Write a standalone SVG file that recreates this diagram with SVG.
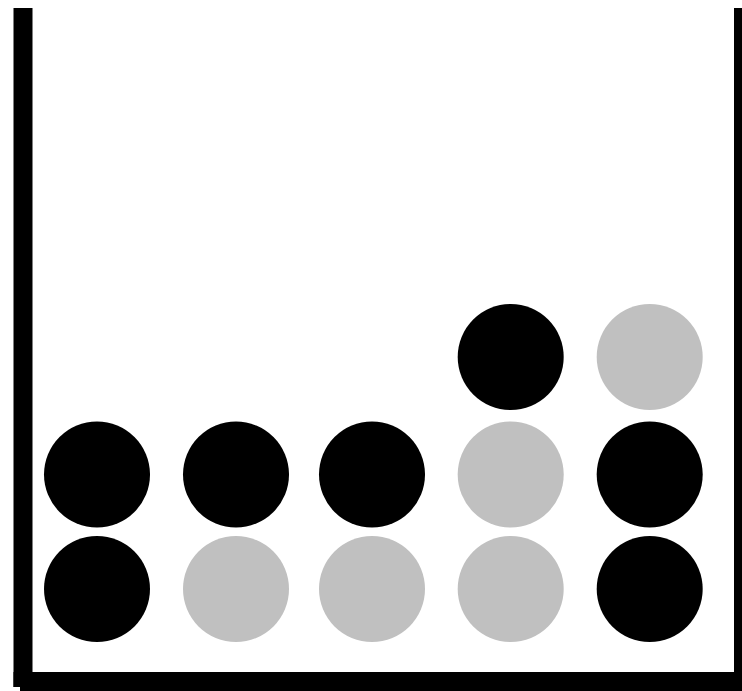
<svg xmlns="http://www.w3.org/2000/svg" width="742" height="691" viewBox="0 0 742 691">
<style>
.w{fill:#000}
.b{fill:#000}
.g{fill:#c0c0c0}
</style>
<rect width="742" height="691" fill="#fff"/>
<g id="container">
<rect class="w" x="13.5" y="8" width="19" height="679"/>
<rect class="w" x="20" y="672" width="722" height="19"/>
<rect class="w" x="13.5" y="672" width="20" height="15"/>
<rect class="w" x="734" y="8" width="8" height="670"/>
</g>
<g id="balls">
<circle id="c1r2" class="b" cx="97" cy="474.5" r="53"/>
<circle id="c1r3" class="b" cx="97" cy="589" r="53"/>
<circle id="c2r2" class="b" cx="236" cy="474.5" r="53"/>
<circle id="c2r3" class="g" cx="236" cy="589" r="53"/>
<circle id="c3r2" class="b" cx="372" cy="474.5" r="53"/>
<circle id="c3r3" class="g" cx="372" cy="589" r="53"/>
<circle id="c4r1" class="b" cx="510.7" cy="357" r="53"/>
<circle id="c4r2" class="g" cx="510.7" cy="474.5" r="53"/>
<circle id="c4r3" class="g" cx="510.7" cy="589" r="53"/>
<circle id="c5r1" class="g" cx="649.7" cy="357" r="53"/>
<circle id="c5r2" class="b" cx="649.7" cy="474.5" r="53"/>
<circle id="c5r3" class="b" cx="649.7" cy="589" r="53"/>
</g>
</svg>
